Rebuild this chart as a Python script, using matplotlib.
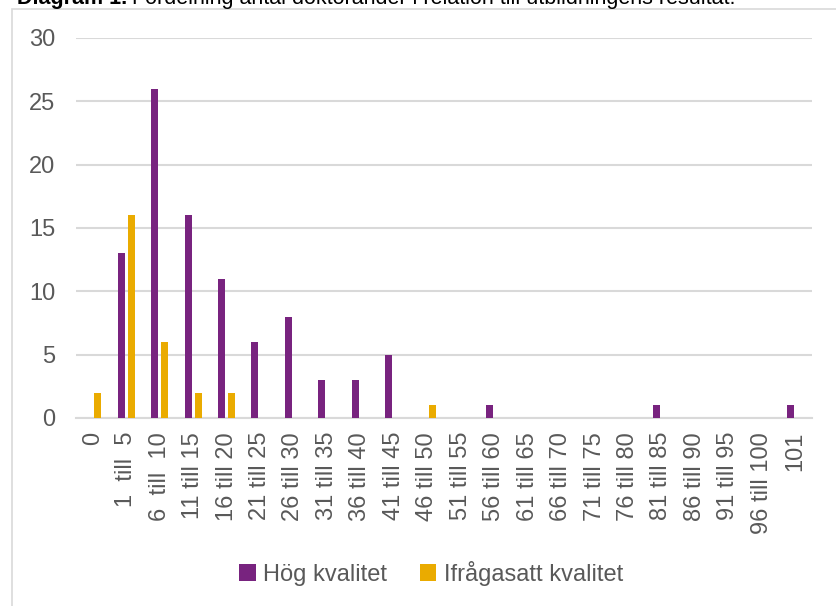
import matplotlib
matplotlib.use("Agg")
import matplotlib.pyplot as plt
import numpy as np
from matplotlib.patches import Rectangle

categories = ["0", "1  till  5", "6  till  10", "11 till 15", "16 till 20", "21 till 25",
              "26 till 30", "31 till 35", "36 till 40", "41 till 45", "46 till 50",
              "51 till 55", "56 till 60", "61 till 65", "66 till 70", "71 till 75",
              "76 till 80", "81 till 85", "86 till 90", "91 till 95", "96 till 100", "101"]
hog = [0, 13, 26, 16, 11, 6, 8, 3, 3, 5, 0, 0, 1, 0, 0, 0, 0, 1, 0, 0, 0, 1]
ifr = [2, 16, 6, 2, 2, 0, 0, 0, 0, 0, 1, 0, 0, 0, 0, 0, 0, 0, 0, 0, 0, 0]
yticks = [0, 5, 10, 15, 20, 25, 30]

plt.rcParams['font.family'] = ['Liberation Sans', 'DejaVu Sans']
TXT = '#595959'
GRID = '#D9D9D9'
PURPLE = '#78237F'
ORANGE = '#EAAB00'

W, H = 836, 606
fig = plt.figure(figsize=(W / 100, H / 100), dpi=100)

# outer chart border
fig.patches.append(Rectangle((12 / W, -0.1), 1.2, 1 - 9 / H + 0.1, transform=fig.transFigure,
                             fill=False, edgecolor=GRID, linewidth=1.2))

# partially visible title (top cut off as in the original)
t1 = fig.text(17 / W, 1 - 4 / H, "Diagram 1.", fontsize=15.5, fontweight='bold', color='black',
              va='baseline', ha='left')
fig.canvas.draw()
bb = t1.get_window_extent(renderer=fig.canvas.get_renderer())
fig.text((bb.x1 + 5) / W, 1 - 4 / H,
         "Fördelning antal doktorander i relation till utbildningens resultat.",
         fontsize=15.5, color='black', va='baseline', ha='left')

ax = fig.add_axes([76 / W, 1 - 418 / H, (812 - 76) / W, (418 - 38) / H])
x = np.arange(len(categories))
bw = 0.21
ax.bar(x - 0.15, hog, width=bw, color=PURPLE, label='Hög kvalitet', zorder=3)
ax.bar(x + 0.15, ifr, width=bw, color=ORANGE, label='Ifrågasatt kvalitet', zorder=3)

ax.set_xlim(-0.5, len(categories) - 0.5)
ax.set_ylim(0, 30)
ax.set_yticks(yticks)
ax.set_yticklabels([str(v) for v in yticks], fontsize=17, color=TXT)
ax.yaxis.grid(True, color=GRID, linewidth=1.5, zorder=0)
ax.set_axisbelow(True)
ax.set_xticks(x)
ax.set_xticklabels(categories, rotation=90, fontsize=17, color=TXT, ha='center', va='top')
ax.tick_params(axis='both', length=0)
ax.tick_params(axis='y', pad=15)
ax.tick_params(axis='x', pad=10)
for s in ['top', 'right', 'left']:
    ax.spines[s].set_visible(False)
ax.spines['bottom'].set_color(GRID)
ax.spines['bottom'].set_linewidth(1.5)

leg = fig.legend(loc='center', bbox_to_anchor=(431 / W, 1 - 573 / H), ncol=2, frameon=False,
                 fontsize=17, handlelength=0.7, handleheight=0.7, handletextpad=0.3,
                 columnspacing=1.4)
for t in leg.get_texts():
    t.set_color(TXT)

fig.savefig("out.png", dpi=100)
